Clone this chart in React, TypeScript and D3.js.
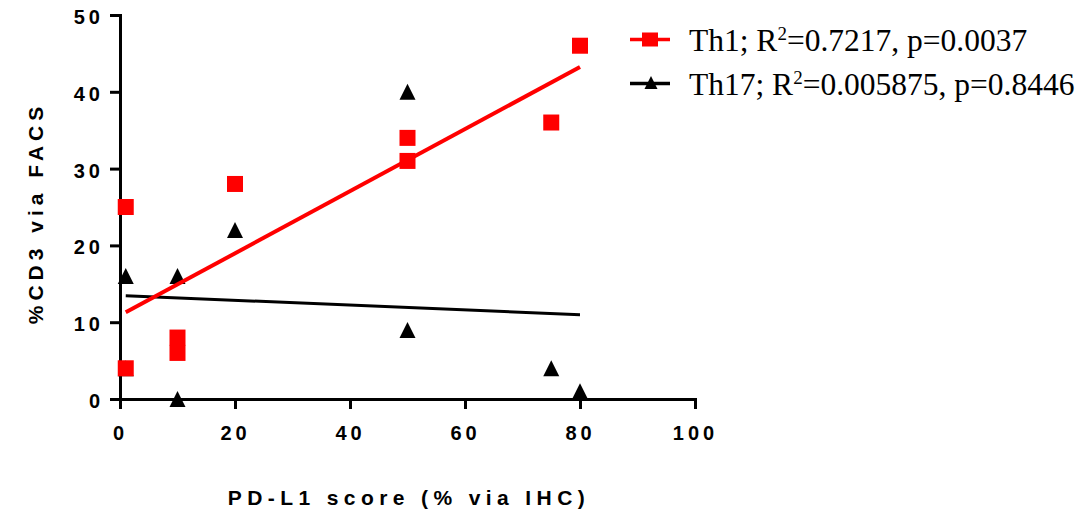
import { useEffect, useRef } from "react";
import * as d3 from "d3";

// PD-L1 score (% via IHC) vs %CD3 via FACS
const th1X = [1, 1, 10, 10, 20, 50, 50, 75, 80];
const th1Y = [25, 4, 8, 6, 28, 34, 31, 36, 46];
const th17X = [1, 1, 10, 10, 20, 50, 50, 75, 80];
const th17Y = [16, 4, 16, 0, 22, 40, 9, 4, 1];

const xTicks = [0, 20, 40, 60, 80, 100];
const yTicks = [0, 10, 20, 30, 40, 50];

const legendLabels = [
  { name: "Th1", r2: "0.7217", p: "0.0037", color: "#ff0000", shape: "square" },
  { name: "Th17", r2: "0.005875", p: "0.8446", color: "#000000", shape: "triangle" },
];

const W = 1088;
const H = 512;

function fit(xs: number[], ys: number[]) {
  const mx = d3.mean(xs)!;
  const my = d3.mean(ys)!;
  const sxy = d3.sum(xs, (x, i) => (x - mx) * (ys[i] - my));
  const sxx = d3.sum(xs, (x) => (x - mx) ** 2);
  const slope = sxy / sxx;
  return { slope, intercept: my - slope * mx };
}

function draw(node: SVGSVGElement) {
  const svg = d3.select(node);
  svg.selectAll("*").remove();

  const x = d3.scaleLinear().domain([0, 100]).range([120, 695]);
  const y = d3.scaleLinear().domain([0, 50]).range([399, 15]);

  const sans = "'Liberation Sans', Arial, sans-serif";

  const yAxis = svg
    .append("g")
    .attr("transform", "translate(120,0)")
    .call(d3.axisLeft(y).tickValues(yTicks).tickSize(10).tickSizeOuter(0).tickPadding(6));
  const xAxis = svg
    .append("g")
    .attr("transform", "translate(0,399)")
    .call(d3.axisBottom(x).tickValues(xTicks).tickSize(10).tickSizeOuter(0).tickPadding(17));

  for (const ax of [xAxis, yAxis]) {
    ax.select(".domain").attr("stroke", "#000").attr("stroke-width", 3).attr("stroke-linecap", "square");
    ax.selectAll(".tick line").attr("stroke", "#000").attr("stroke-width", 3);
    ax.selectAll(".tick text")
      .attr("font-family", sans)
      .attr("font-weight", "bold")
      .attr("font-size", 20)
      .attr("letter-spacing", 4)
      .attr("fill", "#000");
  }
  yAxis.selectAll(".tick text").attr("dy", "0.42em");

  // axis titles
  svg
    .append("text")
    .attr("x", 409)
    .attr("y", 505)
    .attr("text-anchor", "middle")
    .attr("font-family", sans)
    .attr("font-weight", "bold")
    .attr("font-size", 21)
    .attr("letter-spacing", 5.4)
    .text("PD-L1 score (% via IHC)");

  svg
    .append("text")
    .attr("transform", "translate(43,213) rotate(-90)")
    .attr("text-anchor", "middle")
    .attr("font-family", sans)
    .attr("font-weight", "bold")
    .attr("font-size", 21)
    .attr("letter-spacing", 5)
    .text("%CD3 via FACS");

  const tri = (cx: number, cy: number, s: number) =>
    `M${cx},${cy - s / 2}L${cx + s / 2},${cy + s / 2}L${cx - s / 2},${cy + s / 2}Z`;

  // Th17 points
  svg
    .append("g")
    .selectAll("path")
    .data(th17X.map((v, i) => [v, th17Y[i]]))
    .join("path")
    .attr("d", (d) => tri(x(d[0]), y(d[1]), 16))
    .attr("fill", "#000");

  // Th1 points
  svg
    .append("g")
    .selectAll("rect")
    .data(th1X.map((v, i) => [v, th1Y[i]]))
    .join("rect")
    .attr("x", (d) => x(d[0]) - 8)
    .attr("y", (d) => y(d[1]) - 8)
    .attr("width", 16)
    .attr("height", 16)
    .attr("fill", "#ff0000");

  // regression lines
  const lines = [
    { xs: th17X, ys: th17Y, color: "#000", w: 3 },
    { xs: th1X, ys: th1Y, color: "#ff0000", w: 4 },
  ];
  for (const l of lines) {
    const f = fit(l.xs, l.ys);
    const [x0, x1] = d3.extent(l.xs) as [number, number];
    svg
      .append("line")
      .attr("x1", x(x0))
      .attr("y1", y(f.intercept + f.slope * x0))
      .attr("x2", x(x1))
      .attr("y2", y(f.intercept + f.slope * x1))
      .attr("stroke", l.color)
      .attr("stroke-width", l.w);
  }

  // legend
  const leg = svg
    .selectAll("g.leg")
    .data(legendLabels)
    .join("g")
    .attr("class", "leg")
    .attr("transform", (d, i) => `translate(0,${39.5 + i * 44})`);

  leg
    .append("line")
    .attr("x1", 630)
    .attr("x2", 670)
    .attr("stroke", (d) => d.color)
    .attr("stroke-width", 3.5);

  leg
    .filter((d) => d.shape === "square")
    .append("rect")
    .attr("x", 642)
    .attr("y", -7)
    .attr("width", 16)
    .attr("height", 14)
    .attr("fill", (d) => d.color);

  leg
    .filter((d) => d.shape === "triangle")
    .append("path")
    .attr("d", tri(651, -1, 13))
    .attr("fill", (d) => d.color);

  const txt = leg
    .append("text")
    .attr("x", 689)
    .attr("y", 11.5)
    .attr("font-family", "'Liberation Serif', 'Times New Roman', serif")
    .attr("font-size", 31.5)
    .attr("fill", "#000");
  txt.append("tspan").text((d) => `${d.name}; R`);
  txt.append("tspan").attr("font-size", 19).attr("dy", -11).text("2");
  txt.append("tspan").attr("dy", 11).text((d) => `=${d.r2}, p=${d.p}`);
}

export default function App() {
  const ref = useRef<SVGSVGElement>(null);

  useEffect(() => {
    if (ref.current) draw(ref.current);
  });

  return (
    <svg
      ref={ref}
      width={W}
      height={H}
      style={{ position: "absolute", left: 0, top: 0, background: "#fff" }}
    />
  );
}
